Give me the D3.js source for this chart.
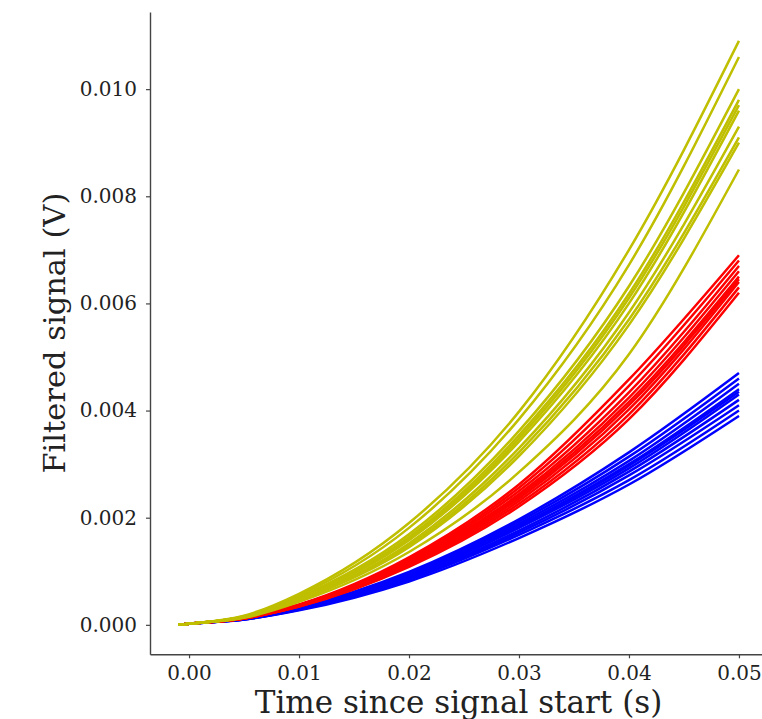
<!DOCTYPE html>
<html lang="en">
<head>
  <meta charset="UTF-8">
  <title>Filtered signal</title>
  <script src="https://d3js.org/d3.v7.min.js"></script>
  <style>
    body { margin: 0; background: #fff; }
    svg text { font-family: 'DejaVu Serif', serif; fill: #222; }
  </style>
</head>
<body>
  <div id="canvas"></div>
  <script>
    // sample times (s)
    const times = [-0.001, 0, 0.005, 0.01, 0.02, 0.03, 0.04, 0.05];

    // blue group (V)
    const blueRuns = [
      [0, 0.00002, 0.00012, 0.00033, 0.00099, 0.00197, 0.00322, 0.0047],
      [0, 0.00002, 0.00012, 0.00032, 0.00097, 0.00193, 0.00314, 0.0046],
      [0, 0.00002, 0.00011, 0.00032, 0.00095, 0.00189, 0.00306, 0.0045],
      [0, 0.00002, 0.00011, 0.00031, 0.00092, 0.00185, 0.00300, 0.0044],
      [0, 0.00002, 0.00011, 0.00031, 0.00093, 0.00184, 0.00297, 0.00435],
      [0, 0.00002, 0.00011, 0.00030, 0.00090, 0.00181, 0.00292, 0.0043],
      [0, 0.00002, 0.00011, 0.00029, 0.00088, 0.00176, 0.00286, 0.0042],
      [0, 0.00002, 0.00010, 0.00029, 0.00086, 0.00172, 0.00279, 0.0041],
      [0, 0.00002, 0.00010, 0.00028, 0.00084, 0.00168, 0.00270, 0.0040],
      [0, 0.00002, 0.00010, 0.00027, 0.00081, 0.00162, 0.00262, 0.0039]
    ];

    // red group (V)
    const redRuns = [
      [0, 0.00002, 0.00013, 0.00038, 0.00126, 0.00262, 0.00458, 0.0069],
      [0, 0.00002, 0.00013, 0.00037, 0.00123, 0.00256, 0.00446, 0.0068],
      [0, 0.00002, 0.00013, 0.00037, 0.00121, 0.00250, 0.00434, 0.0067],
      [0, 0.00002, 0.00012, 0.00036, 0.00119, 0.00244, 0.00424, 0.0066],
      [0, 0.00002, 0.00012, 0.00036, 0.00117, 0.00240, 0.00416, 0.0065],
      [0, 0.00002, 0.00012, 0.00035, 0.00115, 0.00236, 0.00410, 0.00645],
      [0, 0.00002, 0.00012, 0.00035, 0.00113, 0.00231, 0.00402, 0.0064],
      [0, 0.00002, 0.00012, 0.00034, 0.00110, 0.00226, 0.00393, 0.0063],
      [0, 0.00002, 0.00012, 0.00034, 0.00108, 0.00221, 0.00384, 0.0062]
    ];

    // yellow group (V)
    const yellowRuns = [
      [0, 0.00002, 0.00017, 0.00058, 0.00190, 0.00398, 0.00700, 0.0109],
      [0, 0.00002, 0.00016, 0.00055, 0.00181, 0.00384, 0.00672, 0.0106],
      [0, 0.00002, 0.00015, 0.00052, 0.00169, 0.00362, 0.00632, 0.0100],
      [0, 0.00002, 0.00015, 0.00050, 0.00164, 0.00354, 0.00618, 0.0098],
      [0, 0.00002, 0.00015, 0.00050, 0.00161, 0.00348, 0.00610, 0.0097],
      [0, 0.00002, 0.00015, 0.00049, 0.00158, 0.00342, 0.00600, 0.0096],
      [0, 0.00002, 0.00014, 0.00047, 0.00152, 0.00330, 0.00583, 0.0093],
      [0, 0.00002, 0.00014, 0.00046, 0.00148, 0.00322, 0.00570, 0.0091],
      [0, 0.00002, 0.00014, 0.00046, 0.00145, 0.00315, 0.00560, 0.0090],
      [0, 0.00002, 0.00013, 0.00043, 0.00136, 0.00285, 0.00505, 0.0085]
    ];

    const xTicks = [0, 0.01, 0.02, 0.03, 0.04, 0.05];
    const yTicks = [0, 0.002, 0.004, 0.006, 0.008, 0.010];

    const width = 762;
    const height = 719;
    const plotLeft = 150, plotRight = 767, plotTop = 12, plotBottom = 654.3;

    const scaleX = d3.scaleLinear().domain([-0.00355, 0.05255]).range([plotLeft, plotRight]);
    const scaleY = d3.scaleLinear().domain([-0.00055, 0.01144]).range([plotBottom, plotTop]);

    const svg = d3.select('#canvas')
      .append('svg')
      .attr('width', width)
      .attr('height', height);

    const line = d3.line()
      .x((d, i) => scaleX(times[i]))
      .y(d => scaleY(d))
      .curve(d3.curveMonotoneX);

    const groups = [
      { runs: blueRuns, color: '#0000ff' },
      { runs: redRuns, color: '#ff0000' },
      { runs: yellowRuns, color: '#bfbf00' }
    ];

    groups.forEach(g => {
      svg.append('g')
        .selectAll('path')
        .data(g.runs)
        .enter()
        .append('path')
        .attr('d', line)
        .attr('fill', 'none')
        .attr('stroke', g.color)
        .attr('stroke-width', 2.5);
    });

    const xAxis = d3.axisBottom(scaleX)
      .tickValues(xTicks)
      .tickFormat(d3.format('.2f'))
      .tickSize(4)
      .tickPadding(7.5)
      .tickSizeOuter(0);
    const gx = svg.append('g')
      .attr('transform', 'translate(0,' + plotBottom + ')')
      .call(xAxis);

    const yAxis = d3.axisLeft(scaleY)
      .tickValues(yTicks)
      .tickFormat(d3.format('.3f'))
      .tickSize(4)
      .tickPadding(9)
      .tickSizeOuter(0);
    const gy = svg.append('g')
      .attr('transform', 'translate(' + plotLeft + ',0)')
      .call(yAxis);

    [gx, gy].forEach(g => {
      g.select('.domain').attr('stroke', '#444').attr('stroke-width', 1.4);
      g.selectAll('.tick line').attr('stroke', '#444').attr('stroke-width', 1.2);
      g.selectAll('.tick text')
        .style('font-size', '20px')
        .style('font-family', "'DejaVu Serif', serif")
        .attr('fill', '#222');
    });

    svg.append('text')
      .attr('x', (plotLeft + plotRight) / 2)
      .attr('y', 713)
      .attr('text-anchor', 'middle')
      .style('font-size', '31px')
      .text('Time since signal start (s)');

    svg.append('text')
      .attr('transform', 'translate(65,' + ((plotTop + plotBottom) / 2) + ') rotate(-90)')
      .attr('text-anchor', 'middle')
      .style('font-size', '30.5px')
      .text('Filtered signal (V)');
  </script>
</body>
</html>
